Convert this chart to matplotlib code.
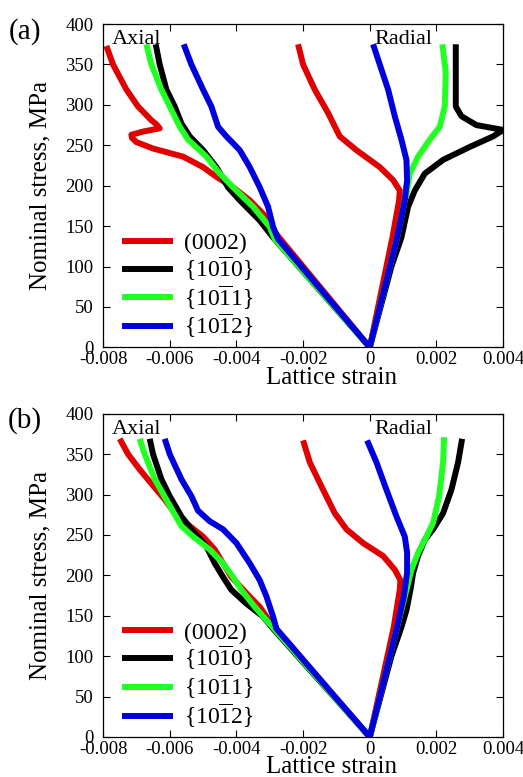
import numpy as np
import matplotlib
matplotlib.use("Agg")
import matplotlib.pyplot as plt

plt.rcParams["font.family"] = "serif"
plt.rcParams["font.serif"] = ["Liberation Serif", "DejaVu Serif"]
plt.rcParams["mathtext.fontset"] = "custom"
plt.rcParams["mathtext.rm"] = "Liberation Serif"

# (stress MPa, lattice strain) pairs
a_ax_0002 = [(0, 0), (140, -0.0028), (161, -0.0031), (182, -0.0036), (198, -0.0041),
             (211, -0.0046), (223, -0.0050), (236, -0.0056), (246, -0.0065), (254, -0.0070),
             (259, -0.00713), (263, -0.00715), (267, -0.0068), (271, -0.0063), (276, -0.0064),
             (281, -0.00655), (298, -0.00695), (319, -0.0073), (350, -0.0077), (373, -0.0079)]
a_ax_1010 = [(0, 0), (136, -0.0029), (157, -0.0033), (182, -0.0039), (198, -0.00425),
             (223, -0.0046), (244, -0.0050), (261, -0.0054), (277, -0.00565), (298, -0.00585),
             (319, -0.0061), (350, -0.0063), (375, -0.00642)]
a_ax_1011 = [(0, 0), (134, -0.00285), (149, -0.0030), (174, -0.0035), (194, -0.0040),
             (215, -0.0045), (236, -0.0049), (257, -0.00545), (273, -0.0057), (298, -0.0060),
             (319, -0.00625), (350, -0.00655), (375, -0.0067)]
a_ax_1012 = [(0, 0), (134, -0.00275), (149, -0.0029), (174, -0.00305), (198, -0.0033),
             (223, -0.0036), (244, -0.0039), (261, -0.0043), (273, -0.00455), (298, -0.00475),
             (319, -0.0050), (350, -0.00535), (375, -0.00558)]
a_rad_0002 = [(0, 0), (136, 0.00068), (182, 0.00088), (194, 0.0009), (207, 0.0007),
              (223, 0.0003), (244, -0.0004), (261, -0.0009), (290, -0.00125), (319, -0.00165),
              (350, -0.0020), (375, -0.00215)]
a_rad_1010 = [(0, 0), (100, 0.00065), (136, 0.00095), (174, 0.00115), (194, 0.00135),
              (215, 0.00165), (232, 0.0022), (248, 0.0030), (261, 0.0037), (269, 0.0040),
              (275, 0.0032), (286, 0.00275), (298, 0.00258), (375, 0.00258)]
a_rad_1011 = [(0, 0), (136, 0.00082), (182, 0.00105), (194, 0.00112), (215, 0.0012),
              (236, 0.00145), (257, 0.0018), (273, 0.0021), (298, 0.00225), (340, 0.00228),
              (375, 0.00218)]
a_rad_1012 = [(0, 0), (136, 0.00082), (182, 0.00105), (207, 0.00112), (232, 0.0011),
              (257, 0.00095), (286, 0.00075), (319, 0.00055), (350, 0.0003), (375, 0.0001)]

b_ax_0002 = [(0, 0), (140, -0.00295), (161, -0.0033), (178, -0.0037), (198, -0.00415),
             (215, -0.0044), (232, -0.00465), (248, -0.0050), (261, -0.0054), (277, -0.00585),
             (294, -0.00615), (311, -0.0065), (331, -0.0069), (350, -0.00725), (369, -0.0075)]
b_ax_1010 = [(0, 0), (134, -0.0029), (149, -0.0032), (165, -0.0037), (182, -0.00415),
             (198, -0.0044), (215, -0.00465), (236, -0.0049), (257, -0.00535), (273, -0.00565),
             (298, -0.0060), (319, -0.00625), (350, -0.0065), (369, -0.0066)]
b_ax_1011 = [(0, 0), (140, -0.0030), (161, -0.00345), (182, -0.00385), (198, -0.0041),
             (215, -0.0044), (232, -0.0048), (248, -0.0053), (261, -0.00565), (290, -0.00605),
             (319, -0.00645), (350, -0.00675), (369, -0.0069)]
b_ax_1012 = [(0, 0), (134, -0.0028), (149, -0.0029), (174, -0.0031), (194, -0.0033),
             (215, -0.0036), (240, -0.0040), (257, -0.0044), (267, -0.0048), (280, -0.00515),
             (298, -0.00535), (319, -0.00565), (350, -0.0060), (369, -0.00615)]
b_rad_0002 = [(0, 0), (136, 0.00072), (182, 0.0009), (194, 0.00092), (207, 0.00075),
              (224, 0.0004), (240, -0.0002), (257, -0.0007), (277, -0.00105), (306, -0.0014),
              (340, -0.0018), (367, -0.0020)]
b_rad_1010 = [(0, 0), (100, 0.00065), (136, 0.00095), (157, 0.0011), (182, 0.00122),
              (203, 0.0013), (224, 0.00145), (244, 0.00165), (257, 0.0019), (277, 0.0022),
              (306, 0.00245), (340, 0.00265), (369, 0.00277)]
b_rad_1011 = [(0, 0), (136, 0.00082), (182, 0.0011), (207, 0.00125), (228, 0.00145),
              (248, 0.0017), (265, 0.0019), (298, 0.00208), (340, 0.0022), (371, 0.00223)]
b_rad_1012 = [(0, 0), (136, 0.00082), (174, 0.00102), (203, 0.00112), (228, 0.00112),
              (248, 0.00105), (273, 0.0008), (306, 0.0005), (340, 0.0002), (367, -0.00008)]

labels = ["(0002)",
          r"{10$\mathrm{\overline{1}}$0}",
          r"{10$\mathrm{\overline{1}}$1}",
          r"{10$\mathrm{\overline{1}}$2}"]
colors = ["#e00000", "#000000", "#22ff22", "#0000dd"]

panels = [
    ("(a)", [a_ax_0002, a_ax_1010, a_ax_1011, a_ax_1012],
     [a_rad_0002, a_rad_1010, a_rad_1011, a_rad_1012]),
    ("(b)", [b_ax_0002, b_ax_1010, b_ax_1011, b_ax_1012],
     [b_rad_0002, b_rad_1010, b_rad_1011, b_rad_1012]),
]

fig = plt.figure(figsize=(5.23, 7.77), dpi=100)
boxes = [[0.197, 0.553, 0.765, 0.416], [0.197, 0.0515, 0.765, 0.416]]

for box, (tag, axial, radial) in zip(boxes, panels):
    ax = fig.add_axes(box)
    for i in range(4):
        ax_s, ax_e = np.array(axial[i]).T
        rd_s, rd_e = np.array(radial[i]).T
        ax.plot(ax_e, ax_s, color=colors[i], lw=4.3, label=labels[i],
                solid_joinstyle="round", solid_capstyle="butt")
        ax.plot(rd_e, rd_s, color=colors[i], lw=4.3,
                solid_joinstyle="round", solid_capstyle="butt")

    ax.set_xlim(-0.008, 0.004)
    ax.set_ylim(0, 400)
    ax.set_xticks(np.arange(-0.008, 0.0041, 0.002))
    ax.set_xticklabels(["-0.008", "-0.006", "-0.004", "-0.002", "0", "0.002", "0.004"])
    ax.set_yticks(np.arange(0, 401, 50))
    ax.tick_params(direction="in", top=True, right=True, length=5, labelsize=13.5)
    ax.tick_params(axis="x", pad=3)
    ax.tick_params(axis="y", pad=7)
    for sp in ax.spines.values():
        sp.set_linewidth(0.9)

    ax.set_xlabel("Lattice strain", fontsize=18)
    ax.xaxis.set_label_coords(0.57, -0.06)
    ax.set_ylabel("Nominal stress, MPa", fontsize=18)
    ax.yaxis.set_label_coords(-0.13, 0.5)

    ax.text(0.022, 0.937, "Axial", transform=ax.transAxes, fontsize=16, va="baseline")
    ax.text(0.678, 0.937, "Radial", transform=ax.transAxes, fontsize=16, va="baseline")
    ax.text(-0.195, 0.978, tag, transform=ax.transAxes, fontsize=21,
            ha="center", va="center")

    ax.legend(loc="lower left", bbox_to_anchor=(0.013, -0.022), frameon=False,
              fontsize=17, handlelength=2.15, handletextpad=0.47, labelspacing=0.0,
              borderaxespad=0.2)

fig.savefig("out.png", dpi=100)
